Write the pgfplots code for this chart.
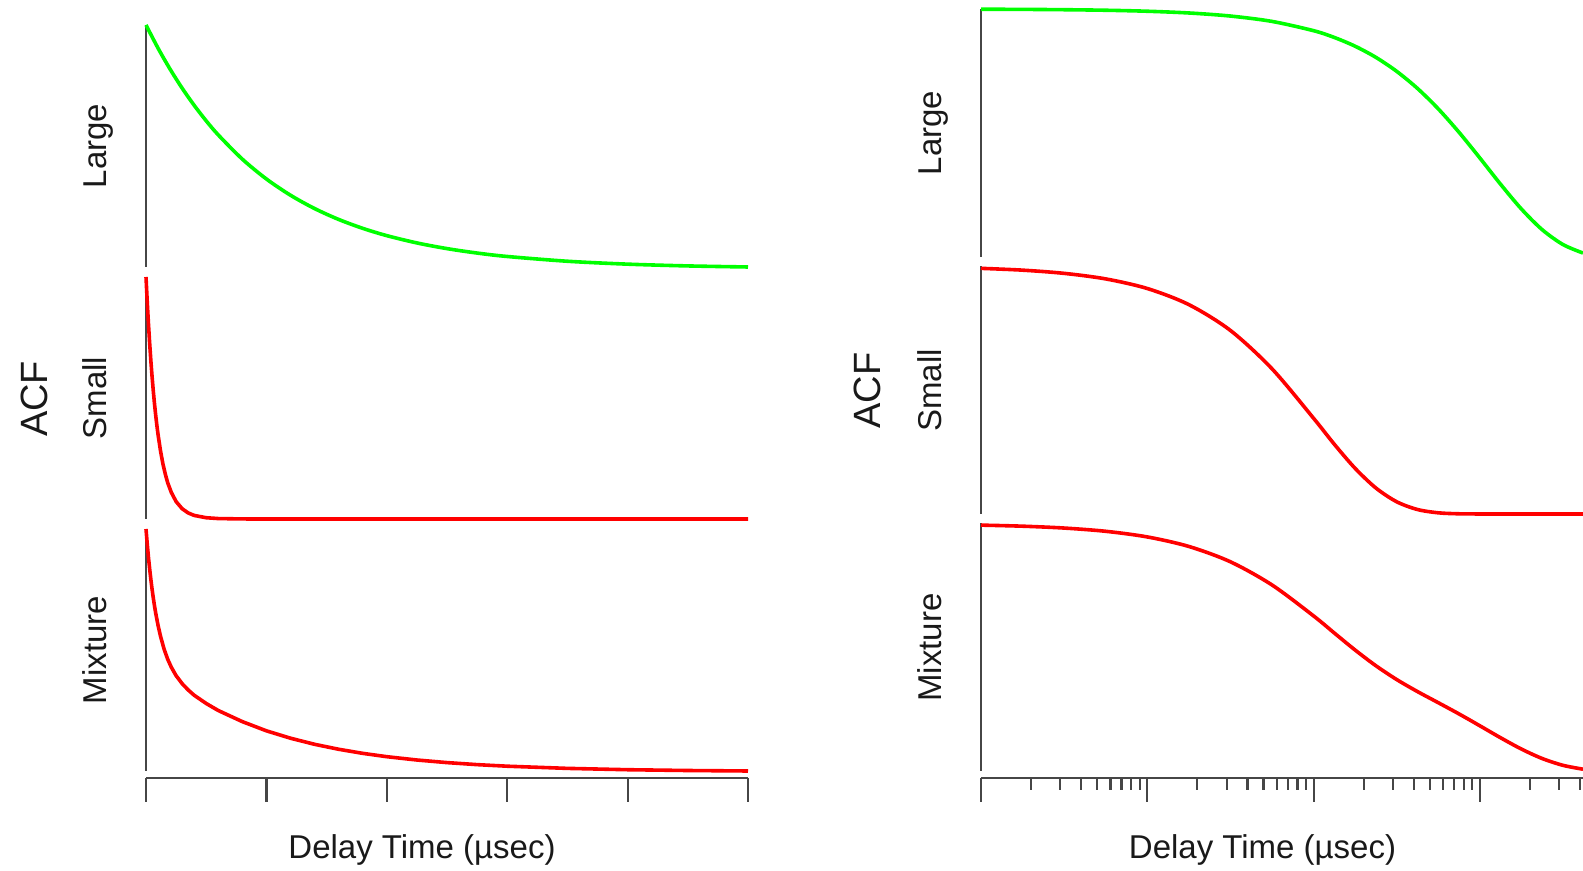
\documentclass[border=0pt]{standalone}
\usepackage{fontspec}
\setmainfont{Liberation Sans}
\usepackage{pgfplots}
\pgfplotsset{compat=1.18}
\definecolor{cgreen}{RGB}{0,255,0}
\definecolor{cred}{RGB}{255,0,0}
\definecolor{axgray}{RGB}{70,70,70}
\pgfplotsset{
  sub/.style={scale only axis, width=301pt, axis x line=none, axis y line=left,
    ytick=\empty, xtick=\empty, ymin=0, ymax=1, clip=false, anchor=south west,
    axis line style={-, draw=axgray, line width=1.1pt}},
  bot/.style={scale only axis, width=301pt, height=10pt, axis y line=none, axis x line=bottom,
    ymin=0, ymax=1, anchor=south west, tick align=outside, major tick length=12pt,
    minor tick length=6pt, xticklabels={}, axis line style={-, draw=axgray, line width=1.1pt},
    tick style={draw=axgray, line width=1.1pt},
    minor tick style={draw=axgray, line width=1.1pt},
    major tick style={draw=axgray, line width=1.1pt}},
  gcurve/.style={color=cgreen, line width=1.8pt, no marks},
  rcurve/.style={color=cred, line width=1.8pt, no marks},
}
\begin{document}
\begin{tikzpicture}
\useasboundingbox (0,0) rectangle (791.5pt,435.5pt);
% ---------------- Left panel (linear) ----------------
\begin{axis}[sub, at={(73pt,302pt)}, height=121pt, xmin=0, xmax=5]
\addplot[gcurve, smooth] coordinates {(0,1.000)(0.1,0.9042)(0.2,0.8175)(0.3,0.7390)(0.4,0.6681)(0.5,0.6039)(0.6,0.5458)(0.8,0.4456)(1.0,0.3636)(1.2,0.2965)(1.4,0.2415)(1.6,0.1965)(1.8,0.1597)(2.0,0.1295)(2.25,0.0994)(2.5,0.0759)(2.75,0.0576)(3.0,0.0434)(3.5,0.0237)(4.0,0.0117)(4.5,0.0044)(5.0,0.0)};
\end{axis}
\begin{axis}[sub, at={(73pt,176pt)}, height=121pt, xmin=0, xmax=5]
\addplot[rcurve] coordinates {(0,1)(0.01,0.900)(0.02,0.810)(0.03,0.729)(0.04,0.656)(0.05,0.591)(0.06,0.532)(0.07,0.479)(0.08,0.431)(0.09,0.388)(0.10,0.349)(0.12,0.283)(0.14,0.229)(0.16,0.186)(0.18,0.150)(0.21,0.110)(0.25,0.072)(0.30,0.0425)(0.35,0.0251)(0.40,0.0148)(0.5,0.0052)(0.6,0.0018)(0.8,0.0002)(1.0,0)(5.0,0)};
\end{axis}
\begin{axis}[sub, at={(73pt,50pt)}, height=121pt, xmin=0, xmax=5]
\addplot[rcurve] coordinates {(0,1.000)(0.01,0.940)(0.02,0.885)(0.03,0.837)(0.04,0.793)(0.05,0.753)(0.06,0.717)(0.07,0.684)(0.08,0.654)(0.10,0.602)(0.12,0.558)(0.15,0.504)(0.18,0.462)(0.21,0.429)(0.25,0.394)(0.30,0.361)(0.35,0.335)(0.40,0.313)(0.5,0.279)(0.6,0.250)(0.8,0.204)(1.0,0.166)(1.2,0.1355)(1.4,0.1103)(1.6,0.0898)(1.8,0.0729)(2.0,0.0591)(2.25,0.0454)(2.5,0.0347)(2.75,0.0263)(3.0,0.0198)(3.5,0.0108)(4.0,0.0053)(4.5,0.0020)(5.0,0.0)};
\end{axis}
\begin{axis}[bot, at={(73pt,46.5pt)}, xmin=0, xmax=5, xtick={0,1,2,3,4,5}]
\end{axis}
% ---------------- Right panel (log) ----------------
\begin{axis}[sub, at={(490.5pt,307pt)}, height=124pt, xmode=log, xmin=1, xmax=4170]
\addplot[gcurve, smooth] coordinates {(1,0.9991)(1.778,0.9984)(3.162,0.9971)(5.623,0.9949)(10,0.9909)(17.78,0.9839)(31.62,0.9715)(56.23,0.9499)(100,0.9125)(133.4,0.8850)(177.8,0.8498)(237.1,0.8048)(316.2,0.7484)(421.7,0.6794)(562.3,0.5971)(749.9,0.5024)(1000,0.3989)(1333.5,0.2928)(1778.3,0.1932)(2371.4,0.1098)(3162.3,0.0500)(4168.7,0.0160)};
\end{axis}
\begin{axis}[sub, at={(490.5pt,178.5pt)}, height=124pt, xmode=log, xmin=1, xmax=4170]
\addplot[rcurve, smooth] coordinates {(1,0.9905)(1.778,0.9832)(3.162,0.9703)(5.623,0.9479)(10,0.9092)(17.78,0.8442)(31.62,0.7400)(56.23,0.5854)(100,0.3858)(133.4,0.2807)(177.8,0.1839)(237.1,0.1046)(316.2,0.0492)(421.7,0.0180)(562.3,0.0047)(749.9,0.0008)(1000,0.0001)(1333.5,0)(1778.3,0)(2371.4,0)(3162.3,0)(4168.7,0)};
\end{axis}
\begin{axis}[sub, at={(490.5pt,50pt)}, height=124pt, xmode=log, xmin=1, xmax=4170]
\addplot[rcurve, smooth] coordinates {(1,0.9914)(1.778,0.9871)(3.162,0.9796)(5.623,0.9665)(10,0.9438)(17.78,0.9054)(31.62,0.8435)(56.23,0.7501)(100,0.6252)(133.4,0.5560)(177.8,0.4876)(237.1,0.4242)(316.2,0.3686)(421.7,0.3201)(562.3,0.2753)(749.9,0.2299)(1000,0.1822)(1333.5,0.1338)(1778.3,0.0883)(2371.4,0.0502)(3162.3,0.0228)(4168.7,0.0073)};
\end{axis}
\begin{axis}[bot, at={(490.5pt,46.5pt)}, xmode=log, xmin=1, xmax=4170,
  xtick={1,10,100,1000},
  minor xtick={2,3,4,5,6,7,8,9,20,30,40,50,60,70,80,90,200,300,400,500,600,700,800,900,2000,3000,4000}]
\end{axis}
% ---------------- Labels ----------------
\begin{scope}[every node/.style={inner sep=0pt, text=black!90}]
\node[rotate=90, anchor=base, font=\fontsize{19}{22}\selectfont] at (23.8pt,236pt) {ACF};
\node[rotate=90, anchor=base, font=\fontsize{16.5}{19}\selectfont] at (53.35pt,362.5pt) {Large};
\node[rotate=90, anchor=base, font=\fontsize{16.5}{19}\selectfont] at (53.35pt,236.5pt) {Small};
\node[rotate=90, anchor=base, font=\fontsize{16.5}{19}\selectfont] at (53.35pt,110.5pt) {Mixture};
\node[anchor=base, font=\fontsize{16.5}{19}\selectfont] at (211pt,6pt) {Delay Time (µsec)};
\node[rotate=90, anchor=base, font=\fontsize{19}{22}\selectfont] at (440pt,240.25pt) {ACF};
\node[rotate=90, anchor=base, font=\fontsize{16.5}{19}\selectfont] at (470.8pt,369pt) {Large};
\node[rotate=90, anchor=base, font=\fontsize{16.5}{19}\selectfont] at (470.8pt,240.25pt) {Small};
\node[rotate=90, anchor=base, font=\fontsize{16.5}{19}\selectfont] at (470.8pt,111.7pt) {Mixture};
\node[anchor=base, font=\fontsize{16.5}{19}\selectfont] at (631.25pt,6pt) {Delay Time (µsec)};
\end{scope}
\end{tikzpicture}
\end{document}
